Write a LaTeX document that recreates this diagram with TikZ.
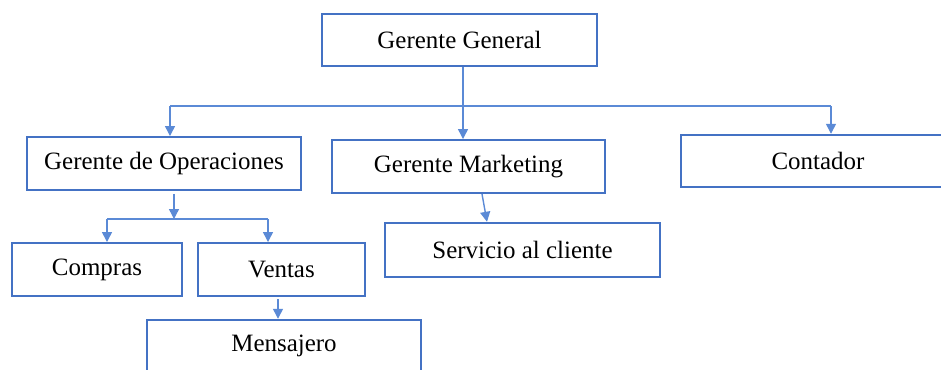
\documentclass[tikz,border=0pt]{standalone}
\usepackage{fontspec}
\setmainfont{Liberation Serif}
\usepackage{tikz}
\usetikzlibrary{arrows.meta,positioning,calc}
\definecolor{boxblue}{HTML}{4472C4}
\definecolor{lineblue}{HTML}{5B8AD6}

\begin{document}
\begin{tikzpicture}[x=0.02cm, y=-0.02cm,
    box/.style={rectangle, draw=boxblue, line width=1.4pt, minimum height=1.05cm, inner sep=0pt, font=\fontsize{14.2}{17}\selectfont},
    link/.style={draw=lineblue, line width=0.8pt},
    arr/.style={link, -{Triangle[length=0.2cm, width=0.2cm]}}]
    \useasboundingbox (0,0) rectangle (941,369);
    \clip (0,0) rectangle (941,369);

    % Boxes
    \node[box, minimum width=5.5cm, minimum height=1.04cm] (gg) at (459.5,40) {Gerente General};
    \node[box, minimum width=5.48cm] (ops) at (164,163.5) {Gerente de Operaciones};
    \node[box, minimum width=5.46cm] (mkt) at (468.5,166.5) {Gerente Marketing};
    \node[box, minimum width=5.48cm, minimum height=1.04cm] (cont) at (818,161) {Contador};
    \node[box, minimum width=3.4cm] (compras) at (97,269.5) {Compras};
    \node[box, minimum width=3.34cm] (ventas) at (281.5,269.5) {Ventas};
    \node[box, minimum width=5.5cm, minimum height=1.08cm] (serv) at (522.5,250) {Servicio al cliente};
    \node[box, minimum width=5.48cm, minimum height=1.04cm] (mens) at (284,346) {Mensajero};

    % Branch points
    \coordinate (b0) at (463,106);
    \coordinate (b1) at (170,106);
    \coordinate (b2) at (831,106);
    \coordinate (s0) at (174,219);
    \coordinate (s1) at (107,219);
    \coordinate (s2) at (268,219);
    \coordinate (m0) at (278,299);

    % Connectors
    \draw[link] (b1) -- (b2);
    \draw[arr] (gg.south -| b0) -- (b0 |- mkt.north);
    \draw[arr] (b1) -- (b1 |- ops.north);
    \draw[arr] (b2) -- (b2 |- cont.north);

    \draw[arr] ($(ops.south -| s0)+(0,3)$) -- (s0);
    \draw[link] (s1) -- (s2);
    \draw[arr] (s1) -- (s1 |- compras.north);
    \draw[arr] (s2) -- (s2 |- ventas.north);
    \draw[arr] (m0) -- (m0 |- mens.north);

    \draw[arr] ($(mkt.south)+(13.5,0)$) -- ($(serv.north)+(-35.5,0)$);
\end{tikzpicture}
\end{document}
